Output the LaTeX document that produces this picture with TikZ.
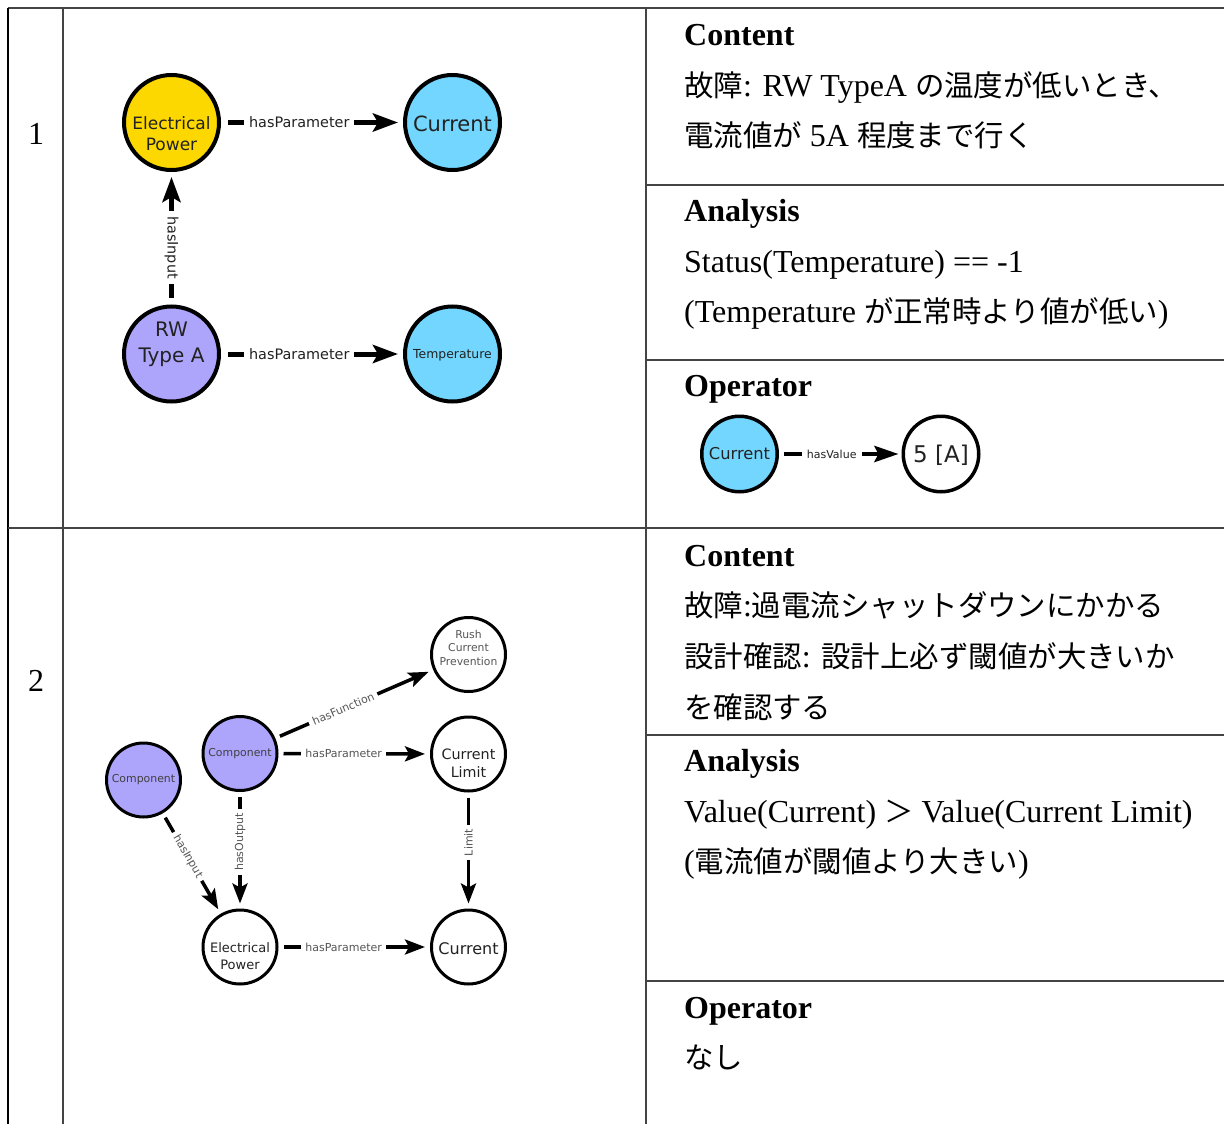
\documentclass[tikz,border=0pt]{standalone}
\usepackage{fontspec}
\setmainfont{Liberation Serif}
\newfontfamily\jp{Noto Sans CJK JP}[Scale=0.92]
\newfontfamily\gsans{DejaVu Sans}
\usetikzlibrary{arrows.meta}

\definecolor{nodeyellow}{HTML}{FCD700}
\definecolor{nodeblue}{HTML}{73D6FE}
\definecolor{nodepurple}{HTML}{ADA4FC}
\definecolor{rulegray}{HTML}{444444}
\definecolor{inktext}{HTML}{222222}
\definecolor{lbltext}{HTML}{555555}

\tikzset{
  tablerule/.style={draw=rulegray, line width=1.3pt},
  cell/.style={anchor=base west, inner sep=0pt, font=\fontsize{32}{38}\selectfont},
  headcell/.style={anchor=base west, inner sep=0pt, font=\fontsize{32}{38}\selectfont\bfseries},
  nodetext/.style={inner sep=0pt, align=center, text=inktext},
  % first graph
  gonenode/.style={circle, draw=black, line width=4pt, minimum size=95pt, inner sep=0pt},
  goneedge/.style={line width=5pt, -{Stealth[length=25pt,width=18pt,inset=5pt]}, shorten <=7pt, shorten >=5pt},
  gonelbl/.style={fill=white, inner xsep=5pt, inner ysep=2pt, pos=0.43, text=inktext, font=\gsans\fontsize{14.4}{17}\selectfont},
  % operator graph
  opnode/.style={circle, draw=black, line width=3.5pt, minimum size=75.5pt, inner sep=0pt},
  opedge/.style={line width=4.5pt, -{Stealth[length=24pt,width=16pt,inset=4pt]}, shorten <=5pt, shorten >=3pt},
  oplbl/.style={fill=white, inner xsep=5pt, inner ysep=2pt, pos=0.43, text=inktext, font=\gsans\fontsize{11}{13}\selectfont},
  % second graph
  gtwonode/.style={circle, draw=black, line width=3pt, minimum size=74pt, inner sep=0pt},
  gtwoedge/.style={line width=3.5pt, -{Stealth[length=20pt,width=15pt,inset=4pt]}, shorten <=5pt, shorten >=5pt},
  gtwolbl/.style={fill=white, inner xsep=4pt, inner ysep=1.5pt, pos=0.43, text=lbltext, font=\gsans\fontsize{11}{13}\selectfont},
}

\begin{document}
\begin{tikzpicture}[x=1pt, y=-1pt]
\useasboundingbox (0,0) rectangle (1224,1124);
\fill[white] (0,0) rectangle (1224,1124);

% table grid
\draw[tablerule] (8,8) -- (1224,8);
\draw[line width=1.3pt, draw=black] (8,8) -- (8,1124);
\draw[tablerule] (63,8) -- (63,1124);
\draw[tablerule] (646,8) -- (646,1124);
\draw[tablerule] (8,528) -- (1224,528);
\draw[tablerule] (646,185) -- (1224,185);
\draw[tablerule] (646,360) -- (1224,360);
\draw[tablerule] (646,735) -- (1224,735);
\draw[tablerule] (646,981) -- (1224,981);

% row numbers
\node[anchor=base, inner sep=0pt, font=\fontsize{32}{38}\selectfont] (num1) at (36,144) {1};
\node[anchor=base, inner sep=0pt, font=\fontsize{32}{38}\selectfont] (num2) at (36,691) {2};

% ---- row 1: graph ----
\node[gonenode, fill=nodeyellow] (ep1) at (171.5,122.5) {};
\node[gonenode, fill=nodeblue] (cur1) at (452.5,122.5) {};
\node[gonenode, fill=nodepurple] (rw) at (171.5,354) {};
\node[gonenode, fill=nodeblue] (temp) at (452.5,354) {};
\node[nodetext, font=\gsans\fontsize{17}{21}\selectfont] (ep1t) at ([yshift=-11pt]ep1.center) {Electrical\\Power};
\node[nodetext, font=\gsans\fontsize{21}{25}\selectfont] (cur1t) at ([yshift=-1pt]cur1.center) {Current};
\node[nodetext, font=\gsans\fontsize{20}{26}\selectfont] (rwt) at ([yshift=10pt]rw.center) {RW\\Type A};
\node[nodetext, font=\gsans\fontsize{12.4}{15}\selectfont] (tempt) at ([yshift=-1pt]temp.center) {Temperature};

\draw[goneedge] (ep1) -- node[gonelbl] (l1a) {hasParameter} (cur1);
\draw[goneedge] (rw) -- node[gonelbl, rotate=-90] (l1b) {hasInput} (ep1);
\draw[goneedge] (rw) -- node[gonelbl] (l1c) {hasParameter} (temp);

% ---- row 1: text ----
\node[headcell] (h1a) at (684,46) {Content};
\node[cell] (t1a) at (684,96) {{\jp 故障}: RW TypeA {\jp の温度が低いとき、}};
\node[cell] (t1b) at (684,146) {{\jp 電流値が} 5A {\jp 程度まで行く}};
\node[headcell] (h1b) at (684,221) {Analysis};
\node[cell] (t1c) at (684,272) {Status(Temperature) == -1};
\node[cell] (t1d) at (684,322) {(Temperature {\jp が正常時より値が低い})};
\node[headcell] (h1c) at (684,396) {Operator};

% operator graph
\node[opnode, fill=nodeblue] (opcur) at (739.5,454) {};
\node[opnode, fill=white] (opval) at (941,454) {};
\node[nodetext, font=\gsans\fontsize{16.3}{19}\selectfont] (opcurt) at (opcur.center) {Current};
\node[nodetext, font=\gsans\fontsize{23}{27}\selectfont] (opvalt) at ([yshift=-1.5pt]opval.center) {5 [A]};
\draw[opedge] (opcur) -- node[oplbl] (lop) {hasValue} (opval);

% ---- row 2: graph ----
\node[gtwonode, fill=white] (rush) at (468.5,654.5) {};
\node[gtwonode, fill=nodepurple] (comp2) at (240,753.5) {};
\node[gtwonode, fill=white] (clim) at (468.5,754) {};
\node[gtwonode, fill=nodepurple] (comp1) at (143.5,780) {};
\node[gtwonode, fill=white] (ep2) at (240,947) {};
\node[gtwonode, fill=white] (cur2) at (468.5,947) {};
\node[nodetext, text=lbltext, font=\gsans\fontsize{10.8}{13.5}\selectfont] (rusht) at ([yshift=7pt]rush.center) {Rush\\Current\\Prevention};
\node[nodetext, text=black!75, font=\gsans\fontsize{10.9}{13}\selectfont] (comp2t) at (comp2.center) {Component};
\node[nodetext, font=\gsans\fontsize{14.3}{18}\selectfont] (climt) at ([yshift=-9pt]clim.center) {Current\\Limit};
\node[nodetext, text=black!75, font=\gsans\fontsize{10.9}{13}\selectfont] (comp1t) at (comp1.center) {Component};
\node[nodetext, font=\gsans\fontsize{13}{17}\selectfont] (ep2t) at ([yshift=-9pt]ep2.center) {Electrical\\Power};
\node[nodetext, font=\gsans\fontsize{16}{19}\selectfont] (cur2t) at ([yshift=-1.5pt]cur2.center) {Current};

\draw[gtwoedge] (comp2) -- node[gtwolbl, sloped] (l2a) {hasFunction} (rush);
\draw[gtwoedge] (comp2) -- node[gtwolbl] (l2b) {hasParameter} (clim);
\draw[gtwoedge] (comp2) -- node[gtwolbl, rotate=90] (l2c) {hasOutput} (ep2);
\draw[gtwoedge] (comp1) -- node[gtwolbl, sloped] (l2d) {hasInput} (ep2);
\draw[gtwoedge] (clim) -- node[gtwolbl, rotate=90] (l2e) {Limit} (cur2);
\draw[gtwoedge] (ep2) -- node[gtwolbl] (l2f) {hasParameter} (cur2);

% ---- row 2: text ----
\node[headcell] (h2a) at (684,566) {Content};
\node[cell] (t2a) at (684,616) {{\jp 故障}:{\jp 過電流シャットダウンにかかる}};
\node[cell] (t2b) at (684,667) {{\jp 設計確認}: {\jp 設計上必ず閾値が大きいか}};
\node[cell] (t2c) at (684,718) {{\jp を確認する}};
\node[headcell] (h2b) at (684,771) {Analysis};
\node[cell] (t2d) at (684,822) {Value(Current) {\jp ＞} Value(Current Limit)};
\node[cell] (t2e) at (684,872) {({\jp 電流値が閾値より大きい})};
\node[headcell] (h2c) at (684,1018) {Operator};
\node[cell] (t2f) at (684,1068) {{\jp なし}};
\end{tikzpicture}
\end{document}
